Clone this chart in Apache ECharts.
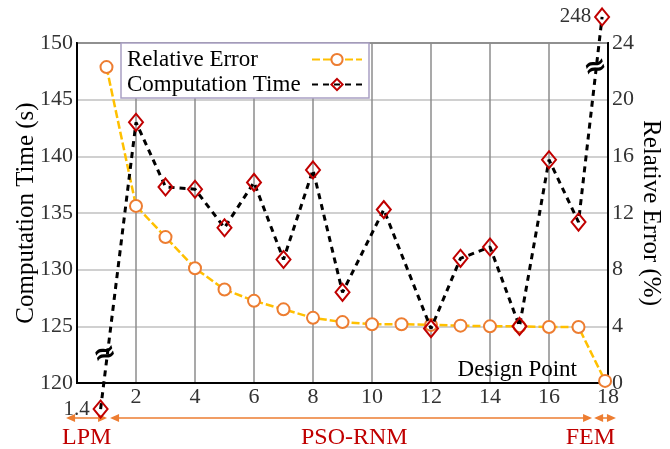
<!DOCTYPE html>
<html>
<head>
<meta charset="utf-8">
<script src="https://cdn.jsdelivr.net/npm/echarts@6/dist/echarts.min.js"></script>
<style>
  html, body { margin: 0; padding: 0; background: #fff; }
  #main { width: 670px; height: 449px; }
</style>
</head>
<body>
<div id="main"></div>
<script>
// design points (x) and read-off values
const errorX = [1, 2, 3, 4, 5, 6, 7, 8, 9, 10, 11, 12, 13, 14, 15, 16, 17, 17.9];
const errorValues = [22.3, 12.5, 10.3, 8.1, 6.6, 5.8, 5.2, 4.6, 4.3, 4.15, 4.15, 4.1, 4.05, 4.0, 4.0, 3.95, 3.95, 0.15];
const timeX = [0.8, 2, 3, 4, 5, 6, 7, 8, 9, 10.4, 12, 13, 14, 15, 16, 17, 17.8];
const timeValues = [1.4, 143.0, 137.3, 137.1, 133.7, 137.7, 130.9, 138.8, 128.0, 135.3, 124.8, 131.0, 132.0, 125.0, 139.7, 134.2, 248];
const timeTicks = [120, 125, 130, 135, 140, 145, 150];
const errorTicks = [0, 4, 8, 12, 16, 20, 24];
const xTicks = [0, 2, 4, 6, 8, 10, 12, 14, 16, 18];
const phases = ["LPM", "PSO-RNM", "FEM"];
const phaseSpans = [[-0.37, 1.02], [1.12, 17.46], [17.53, 18.27]];
const phaseLabelX = [0.33, 9.4, 17.4];

const serif = "Liberation Serif";
const tMin = timeTicks[0], tMax = timeTicks[timeTicks.length - 1];
const breakGap = 2.3; // how far past the broken axis the off-scale points sit

// values outside the time axis are drawn just beyond it (broken axis)
const timeData = timeX.map((x, i) => {
  const v = timeValues[i];
  const shown = v < tMin ? tMin - breakGap : v > tMax ? tMax + breakGap : v;
  const item = { value: [x, shown, v] };
  if (shown !== v) {
    item.label = {
      show: true,
      position: "left",
      distance: 3,
      formatter: p => String(p.value[2]),
      fontFamily: serif,
      fontSize: 21,
      color: "#333"
    };
  }
  return item;
});

const chart = echarts.init(document.getElementById("main"));

const option = {
  animation: false,
  grid: {
    left: 77,
    right: 62,
    top: 43,
    bottom: 66,
    outerBoundsMode: "none",
    show: true,
    borderColor: "#000",
    borderWidth: 2
  },
  legend: {
    data: ["Relative Error", "Computation Time"],
    orient: "vertical",
    left: 121,
    top: 43,
    align: "right",
    itemGap: 2,
    itemWidth: 50,
    itemHeight: 14,
    padding: [5, 6, 2, 6],
    backgroundColor: "#fff",
    borderColor: "#a9a0c4",
    borderWidth: 1.5,
    formatter: name => "{t|" + name + "}",
    textStyle: {
      rich: {
        t: { width: 180, align: "left", fontFamily: serif, fontSize: 23, color: "#000" }
      }
    }
  },
  xAxis: {
    type: "value",
    min: xTicks[0],
    max: xTicks[xTicks.length - 1],
    interval: 2,
    name: "Design Point",
    nameLocation: "end",
    nameGap: -31,
    nameMoveOverlap: false,
    nameTextStyle: {
      fontFamily: serif,
      fontSize: 23,
      color: "#000",
      align: "right",
      verticalAlign: "bottom",
      padding: [0, 0, 2, 0]
    },
    axisLine: { lineStyle: { color: "#000", width: 2 } },
    axisTick: { show: false },
    axisLabel: {
      fontFamily: serif,
      fontSize: 22,
      color: "#333",
      margin: 3,
      formatter: v => (v === 0 ? "" : v)
    },
    splitLine: { lineStyle: { color: "#8c8c8c", width: 1.5 } }
  },
  yAxis: [
    {
      type: "value",
      min: tMin,
      max: tMax,
      interval: 5,
      name: "Computation Time (s)",
      nameLocation: "middle",
      nameGap: 38,
      nameMoveOverlap: false,
      nameTextStyle: { fontFamily: serif, fontSize: 25, color: "#000" },
      axisLine: { show: true, lineStyle: { color: "#000", width: 2 } },
      axisTick: { show: false },
      axisLabel: { fontFamily: serif, fontSize: 22, color: "#333", margin: 4 },
      splitLine: { lineStyle: { color: "#c0c0c0", width: 1.5 } }
    },
    {
      type: "value",
      min: errorTicks[0],
      max: errorTicks[errorTicks.length - 1],
      interval: 4,
      position: "right",
      name: "Relative Error (%)",
      nameLocation: "middle",
      nameGap: 30,
      nameRotate: -90,
      nameMoveOverlap: false,
      nameTextStyle: { fontFamily: serif, fontSize: 25, color: "#000" },
      axisLine: { show: true, lineStyle: { color: "#000", width: 2 } },
      axisTick: { show: false },
      axisLabel: { fontFamily: serif, fontSize: 22, color: "#333", margin: 4 },
      splitLine: { show: false }
    }
  ],
  series: [
    {
      name: "Relative Error",
      type: "line",
      yAxisIndex: 1,
      data: errorX.map((x, i) => [x, errorValues[i]]),
      symbol: "emptyCircle",
      symbolSize: 12,
      clip: false,
      lineStyle: { color: "#ffc000", width: 2.5, type: [8, 3] },
      itemStyle: { color: "#ed7d31", borderColor: "#ed7d31", borderWidth: 2 },
      z: 3
    },
    {
      name: "Computation Time",
      type: "line",
      yAxisIndex: 0,
      data: timeData,
      symbol: "diamond",
      symbolSize: [14, 17],
      clip: false,
      lineStyle: { color: "#000", width: 3, type: [6, 5] },
      itemStyle: { color: "rgba(255,255,255,0)", borderColor: "#c00000", borderWidth: 2 },
      z: 4
    }
  ]
};

chart.setOption(option);

// annotations under the axis: phase arrows and names, plus axis-break marks
const px = (x, y) => chart.convertToPixel({ xAxisIndex: 0, yAxisIndex: 0 }, [x, y]);
const baseY = px(0, tMin)[1];
const arrowY = baseY + 35;
const orange = "#ed7d31";
const graphics = [];

function arrowHead(x, y, dir) {
  return {
    type: "polygon",
    shape: { points: [[x, y], [x - dir * 9, y - 4], [x - dir * 9, y + 4]] },
    style: { fill: orange },
    silent: true
  };
}

phaseSpans.forEach((span, i) => {
  const x1 = px(span[0], tMin)[0];
  const x2 = px(span[1], tMin)[0];
  graphics.push({
    type: "line",
    shape: { x1: x1 + 4, y1: arrowY, x2: x2 - 4, y2: arrowY },
    style: { stroke: orange, lineWidth: 1.5 },
    silent: true
  });
  graphics.push(arrowHead(x1, arrowY, -1));
  graphics.push(arrowHead(x2, arrowY, 1));
  graphics.push({
    type: "text",
    x: px(phaseLabelX[i], tMin)[0],
    y: arrowY + 20,
    style: {
      text: phases[i],
      fill: "#c00000",
      font: '24px "Liberation Serif"',
      align: "center",
      verticalAlign: "middle"
    },
    silent: true
  });
});

// "≈" marks where the time line leaves the axis range
[[0.95, 122.5], [17.58, 147.8]].forEach(p => {
  const c = px(p[0], p[1]);
  graphics.push({
    type: "text",
    x: c[0],
    y: c[1],
    rotation: 0.3,
    style: {
      text: "≈",
      fill: "#000",
      font: 'bold 28px "DejaVu Sans"',
      align: "center",
      verticalAlign: "middle"
    },
    z: 10,
    silent: true
  });
});

chart.setOption({ graphic: graphics });
</script>
</body>
</html>
